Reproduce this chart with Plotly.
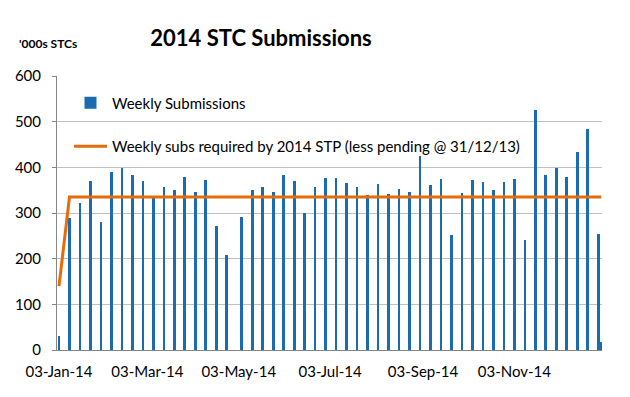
import plotly.graph_objects as go

dates = [
    "2014-01-03", "2014-01-10", "2014-01-17", "2014-01-24", "2014-01-31",
    "2014-02-07", "2014-02-14", "2014-02-21", "2014-02-28",
    "2014-03-07", "2014-03-14", "2014-03-21", "2014-03-28",
    "2014-04-04", "2014-04-11", "2014-04-18", "2014-04-25",
    "2014-05-05", "2014-05-12", "2014-05-19", "2014-05-26",
    "2014-06-02", "2014-06-09", "2014-06-16", "2014-06-23", "2014-06-30",
    "2014-07-07", "2014-07-14", "2014-07-21", "2014-07-28",
    "2014-08-04", "2014-08-11", "2014-08-18", "2014-08-25",
    "2014-09-01", "2014-09-08", "2014-09-15", "2014-09-22", "2014-09-29",
    "2014-10-06", "2014-10-13", "2014-10-20", "2014-10-27",
    "2014-11-03", "2014-11-10", "2014-11-17", "2014-11-24",
    "2014-12-01", "2014-12-08", "2014-12-15", "2014-12-22", "2014-12-29",
    "2014-12-31",
]

weekly_submissions = [
    30, 288, 321, 370, 280,
    389, 399, 383, 370,
    334, 357, 350, 379,
    346, 373, 272, 209,
    291, 350, 357, 347,
    383, 370, 300, 358, 377,
    377, 366, 358, 339,
    363, 341, 352, 347,
    425, 361, 374, 252, 344,
    372, 368, 350, 368,
    374, 241, 526, 383,
    398, 379, 434, 484, 254,
    17,
]

weekly_required = [
    140, 335, 335, 335, 335,
    335, 335, 335, 335,
    335, 335, 335, 335,
    335, 335, 335, 335,
    335, 335, 335, 335,
    335, 335, 335, 335, 335,
    335, 335, 335, 335,
    335, 335, 335, 335,
    335, 335, 335, 335, 335,
    335, 335, 335, 335,
    335, 335, 335, 335,
    335, 335, 335, 335, 335,
    335,
]

x_tick_vals = ["2014-01-03", "2014-03-03", "2014-05-03", "2014-07-03", "2014-09-03", "2014-11-03"]
x_tick_text = ["03-Jan-14", "03-Mar-14", "03-May-14", "03-Jul-14", "03-Sep-14", "03-Nov-14"]
y_tick_vals = [0, 100, 200, 300, 400, 500, 600]

FONT = "Lato"
DAY_MS = 86400000

fig = go.Figure()
fig.add_trace(go.Bar(
    x=dates, y=weekly_submissions, name="Weekly Submissions",
    marker=dict(color="#1a6bb0", line=dict(width=0)),
    width=1.8 * DAY_MS, legendgroup="a",
))
fig.add_trace(go.Scatter(
    x=dates, y=weekly_required, mode="lines",
    name="Weekly subs required by 2014 STP (less pending @ 31/12/13)",
    line=dict(color="#e46c0a", width=3), legendgroup="b",
))

fig.update_layout(
    width=630, height=397,
    margin=dict(l=57, r=28, t=76, b=47, autoexpand=False),
    paper_bgcolor="white", plot_bgcolor="white",
    font=dict(family=FONT, size=15, color="black"),
    title=dict(text="<b>2014 STC Submissions</b>", x=261 / 630, xanchor="center",
               y=1 - 38 / 397, yanchor="middle", font=dict(family=FONT, size=22, color="black")),
    showlegend=True,
    legend=dict(x=0.022, y=0.962, xanchor="left", yanchor="top",
                bgcolor="rgba(0,0,0,0)", font=dict(family=FONT, size=15, color="black"),
                traceorder="grouped", tracegroupgap=21, itemwidth=33),
    annotations=[dict(text="<b>'000s STCs</b>", xref="paper", yref="paper",
                      x=-40 / 545, y=1 + 32 / 274, xanchor="left", yanchor="middle", showarrow=False,
                      font=dict(family=FONT, size=12, color="black"))],
    bargap=0,
)
fig.update_xaxes(
    type="date", range=["2014-01-01 16:00", "2014-12-31 12:00"],
    tickvals=x_tick_vals, ticktext=x_tick_text, automargin=False,
    showgrid=False, showline=True, linecolor="#868686", linewidth=1,
    ticks="", ticklabelstandoff=8, tickfont=dict(family=FONT, size=15),
)
fig.update_yaxes(
    range=[0, 600], tickvals=y_tick_vals, automargin=False,
    showgrid=True, gridcolor="#c0c0c0", gridwidth=1,
    showline=True, linecolor="#868686", linewidth=1,
    ticks="outside", ticklen=4, tickcolor="#868686",
    ticklabelstandoff=8, tickfont=dict(family=FONT, size=15), zeroline=False,
)

fig.write_html("out.html", config={"displayModeBar": False},
               post_script="document.body.style.margin='0';")
